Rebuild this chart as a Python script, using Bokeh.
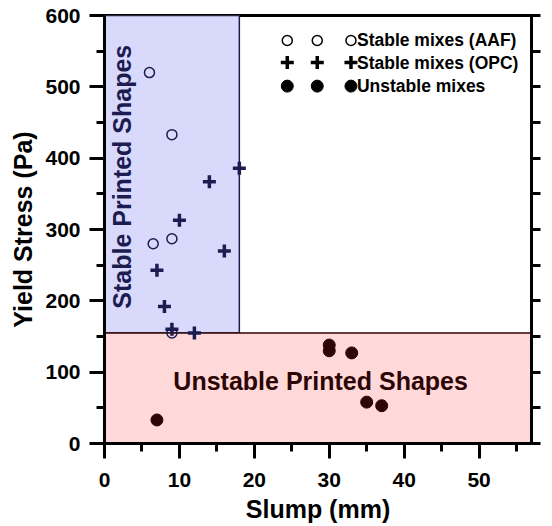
from bokeh.plotting import figure
from bokeh.models import Range1d, LinearAxis, SingleIntervalTicker, BoxAnnotation, Label
from bokeh.embed import file_html
from bokeh.resources import INLINE
from bokeh.core.properties import value

# Slump (mm) vs yield stress (Pa) for the three groups of mixes
aaf_slump = [6, 9, 6.5, 9, 9]
aaf_stress = [520, 433, 280, 287, 155]

opc_slump = [18, 14, 10, 16, 7, 8, 9, 12]
opc_stress = [386, 367, 313, 270, 243, 192, 160, 155]

unstable_slump = [7, 30, 30, 33, 35, 37]
unstable_stress = [33, 138, 130, 127, 58, 53]

legend_labels = ["Stable mixes (AAF)", "Stable mixes (OPC)", "Unstable mixes"]

# printability regions
stable_slump_max = 18
stability_threshold = 155

FONT = "Liberation Sans"
NAVY = "#1c1c50"
MAROON = "#2e0505"

p = figure(width=552, height=526, output_backend="svg", toolbar_location=None,
           x_range=Range1d(0, 57), y_range=Range1d(0, 600),
           min_border_left=104, min_border_right=21, min_border_top=15, min_border_bottom=83)
p.background_fill_color = "white"
p.border_fill_color = "white"
p.outline_line_color = "black"
p.outline_line_width = 3
p.xgrid.visible = False
p.ygrid.visible = False

# shaded regions
p.add_layout(BoxAnnotation(left=0, right=stable_slump_max, bottom=stability_threshold, top=600,
                           fill_color="#d9d9fc", fill_alpha=1, line_color=NAVY, line_alpha=1,
                           line_width=1.5, level="underlay"))
p.add_layout(BoxAnnotation(left=0, right=57, bottom=0, top=stability_threshold,
                           fill_color="#ffd9d9", fill_alpha=1, line_color=MAROON, line_alpha=1,
                           line_width=1.5, level="underlay"))

p.add_layout(Label(x=2.3, y=374, text="Stable Printed Shapes", angle=90, angle_units="deg",
                   text_align="center", text_baseline="middle", text_font=FONT,
                   text_font_style="bold", text_font_size="25px", text_color=NAVY))
p.add_layout(Label(x=28.85, y=88, text="Unstable Printed Shapes",
                   text_align="center", text_baseline="middle", text_font=FONT,
                   text_font_style="bold", text_font_size="25px", text_color=MAROON))

# data
p.scatter(aaf_slump, aaf_stress, marker="circle", size=10, fill_color=None,
          line_color=NAVY, line_width=1.5)
p.scatter(opc_slump, opc_stress, marker="cross", size=13, line_color=NAVY, line_width=3.5)
p.scatter(unstable_slump, unstable_stress, marker="circle", size=12, fill_color=MAROON,
          line_color=MAROON)

# legend: each symbol shown three times in a row
leg_x = [24.4, 28.4, 32.9]
leg_y = [565, 534, 501]
leg_text_x = 33.7
p.scatter(leg_x, [leg_y[0]] * 3, marker="circle", size=10, fill_color=None,
          line_color="black", line_width=1.5)
p.scatter(leg_x, [leg_y[1]] * 3, marker="cross", size=13, line_color="black", line_width=3.5)
p.scatter(leg_x, [leg_y[2]] * 3, marker="circle", size=12, fill_color="black",
          line_color="black")
p.text([leg_text_x] * 3, leg_y, text=legend_labels, text_align="left", text_baseline="middle",
       text_font=value(FONT), text_font_style="bold", text_font_size="17.5px", text_color="black")

# axes
for ax in (p.xaxis[0], p.yaxis[0]):
    ax.axis_line_width = 3
    ax.axis_line_color = "black"
    ax.major_tick_line_width = 3
    ax.minor_tick_line_width = 3
    ax.major_tick_line_color = "black"
    ax.minor_tick_line_color = "black"
    ax.major_tick_out = 15
    ax.major_tick_in = 0
    ax.minor_tick_out = 8
    ax.minor_tick_in = 0
    ax.major_label_text_font = FONT
    ax.major_label_text_font_style = "bold"
    ax.major_label_text_font_size = "21px"
    ax.major_label_text_color = "black"
    ax.axis_label_text_font = FONT
    ax.axis_label_text_font_style = "bold"
    ax.axis_label_text_font_size = "25px"
    ax.axis_label_text_color = "black"

p.xaxis[0].ticker = SingleIntervalTicker(interval=10, num_minor_ticks=2)
p.yaxis[0].ticker = SingleIntervalTicker(interval=100, num_minor_ticks=2)
p.xaxis[0].axis_label = "Slump (mm)"
p.yaxis[0].axis_label = "Yield Stress (Pa)"
p.xaxis[0].major_label_standoff = 14
p.yaxis[0].major_label_standoff = 9
p.xaxis[0].axis_label_standoff = 5
p.yaxis[0].axis_label_standoff = 5

# right-hand axis: ticks only, no labels
right_ticks = list(range(0, 601, 50))
right = LinearAxis(ticker=SingleIntervalTicker(interval=50, num_minor_ticks=0),
                   axis_line_width=3, axis_line_color="black",
                   major_tick_line_width=3, major_tick_line_color="black", major_tick_out=9,
                   major_tick_in=0, minor_tick_line_color=None,
                   major_label_overrides={t: "" for t in right_ticks},
                   major_label_standoff=0)
p.add_layout(right, "right")

open("out.html", "w").write(file_html(p, INLINE))
